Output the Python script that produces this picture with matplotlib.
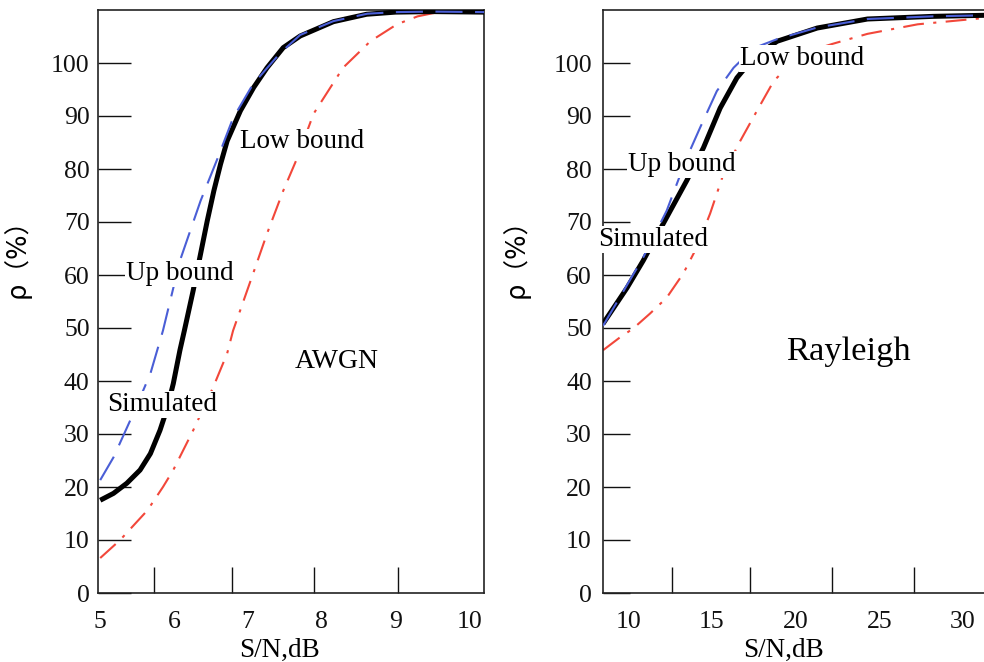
import matplotlib
matplotlib.use("Agg")
import matplotlib.pyplot as plt

# ---------------- data ----------------
# AWGN panel
awgn_sim_x = [5.0, 5.18, 5.36, 5.54, 5.68, 5.81, 5.90, 5.99, 6.08, 6.14, 6.26, 6.36, 6.45, 6.54, 6.63, 6.72, 6.90, 7.08, 7.26, 7.48, 7.71, 8.16, 8.61, 9.0, 9.5, 10.2]
awgn_sim_y = [17.5, 18.8, 20.7, 23.2, 26.3, 30.7, 34.5, 39.5, 45.8, 49.5, 57.1, 64.0, 70.2, 75.9, 80.9, 85.3, 91.0, 95.4, 99.1, 102.9, 105.1, 107.8, 109.2, 109.6, 109.7, 109.6]

awgn_up_x = [5.0, 5.18, 5.45, 5.68, 5.85, 6.08, 6.36, 6.59, 6.80, 7.07, 7.44, 7.71, 8.16, 8.62, 9.0, 9.5, 10.2]
awgn_up_y = [21.3, 25.6, 33.9, 41.4, 49.5, 62.7, 74.0, 82.0, 89.6, 96.0, 101.9, 105.3, 107.9, 109.3, 109.6, 109.7, 109.6]

awgn_low_x = [5.0, 5.27, 5.64, 5.85, 5.99, 6.26, 6.53, 6.72, 6.80, 7.07, 7.26, 7.48, 7.67, 7.89, 8.29, 8.66, 9.02, 9.30, 9.51, 9.8, 10.2]
awgn_low_y = [6.6, 10.0, 15.6, 20.0, 23.2, 30.7, 38.8, 45.2, 49.5, 60.2, 67.8, 75.9, 82.1, 90.4, 99.1, 104.1, 107.3, 108.8, 109.4, 109.6, 109.6]

# Rayleigh panel
ray_sim_x = [8.5, 9.94, 10.9, 12.1, 13.5, 14.5, 15.5, 16.5, 17.5, 18.9, 21.3, 24.3, 28.2, 31.3]
ray_sim_y = [50.8, 57.6, 62.7, 69.7, 77.8, 84.0, 91.5, 97.2, 101.0, 104.1, 106.6, 108.3, 108.8, 109.0]

ray_up_x = [8.5, 10.9, 12.3, 13.5, 14.3, 15.3, 16.3, 17.5, 18.9, 21.3, 24.3, 28.2, 31.3]
ray_up_y = [50.4, 63.3, 72.1, 82.1, 87.8, 94.7, 99.1, 102.8, 104.5, 106.7, 108.3, 108.8, 109.0]

ray_low_x = [8.5, 9.5, 10.3, 11.3, 12.3, 13.3, 14.1, 14.9, 15.7, 16.7, 17.7, 18.7, 20.3, 22.2, 24.3, 27.3, 31.3]
ray_low_y = [45.8, 48.2, 49.9, 52.7, 55.7, 60.3, 65.2, 71.6, 79.1, 85.3, 91.0, 96.6, 101.7, 103.6, 105.5, 107.3, 108.5]

y_ticks = [0, 10, 20, 30, 40, 50, 60, 70, 80, 90, 100]
awgn_xticks = [5, 6, 7, 8, 9, 10]
awgn_minor = [5.73, 6.79, 7.90, 9.03]
ray_xticks = [10, 15, 20, 25, 30]
ray_minor = [12.6, 17.3, 22.2, 27.1]

label_sim, label_up, label_low = "Simulated", "Up bound", "Low bound"
xlabel = "S/N,dB"
ylabel = "ρ（%）"

# ---------------- figure ----------------
SERIF = ["Liberation Serif", "DejaVu Serif"]
YLF = ["DejaVu Sans", "Noto Sans CJK SC"]
plt.rcParams["font.family"] = SERIF

fig = plt.figure(figsize=(9.84, 6.62), dpi=100)
ax1 = fig.add_axes([98 / 984, 69 / 662, 386 / 984, 583 / 662])
ax2 = fig.add_axes([603 / 984, 69 / 662, 385 / 984, 583 / 662])

BLUE = "#4a5ed6"
RED = "#f2473a"
blue_ls = (0, (13, 6))
red_ls = (0, (10, 4.5, 1.5, 4.5))
tb = dict(facecolor="white", edgecolor="none", pad=0.5)
TXT = 19.5


def style(ax, xlim, xticks, minor, ylen):
    ax.set_xlim(*xlim)
    ax.set_ylim(0, 110)
    ax.set_yticks(y_ticks)
    ax.set_xticks(xticks)
    ax.set_xticks(minor, minor=True)
    ax.tick_params(axis="y", which="major", direction="in", length=ylen, width=1.0,
                   labelsize=18.5, pad=6, colors="#111111")
    ax.tick_params(axis="x", which="major", length=0, labelsize=18.5, pad=13, colors="#111111")
    ax.tick_params(axis="x", which="minor", direction="in", length=19, width=1.0, color="#111111")
    ax.tick_params(axis="y", which="minor", length=0)
    for s in ax.spines.values():
        s.set_linewidth(1.2)
        s.set_color("#222222")
    ax.set_xlabel(xlabel, fontsize=19.5)
    ax.set_ylabel(ylabel, fontsize=18.5, family=YLF)


# ---- AWGN ----
style(ax1, (4.97, 10.2), awgn_xticks, awgn_minor, 24)
ax1.plot(awgn_low_x, awgn_low_y, color=RED, lw=1.5, ls=red_ls, zorder=2)
ax1.plot(awgn_sim_x, awgn_sim_y, color="black", lw=3.6, zorder=3,
         solid_capstyle="butt", solid_joinstyle="round")
ax1.plot(awgn_up_x, awgn_up_y, color=BLUE, lw=1.5, ls=blue_ls, zorder=4)
ax1.text(7.74, 85.1, label_low, fontsize=TXT, ha="center", va="center", bbox=tb, zorder=6)
ax1.text(6.08, 60.3, label_up, fontsize=TXT, ha="center", va="center", bbox=tb, zorder=6)
ax1.text(5.84, 35.6, label_sim, fontsize=TXT, ha="center", va="center", bbox=tb, zorder=6)
ax1.text(8.21, 43.7, "AWGN", fontsize=20, ha="center", va="center", zorder=6)
ax1.xaxis.set_label_coords(0.47, -0.077)
ax1.yaxis.set_label_coords(-0.175, 0.585)

# ---- Rayleigh ----
style(ax2, (8.5, 31.5), ray_xticks, ray_minor, 19.5)
ax2.spines["right"].set_visible(False)
ax2.tick_params(axis="y", pad=8)
ax2.plot(ray_low_x, ray_low_y, color=RED, lw=1.5, ls=red_ls, zorder=2)
ax2.plot(ray_sim_x, ray_sim_y, color="black", lw=3.6, zorder=3,
         solid_capstyle="butt", solid_joinstyle="round")
ax2.plot(ray_up_x, ray_up_y, color=BLUE, lw=1.5, ls=blue_ls, zorder=4)
ax2.text(20.39, 100.9, label_low, fontsize=TXT, ha="center", va="center", bbox=tb, zorder=6)
ax2.text(13.22, 80.8, label_up, fontsize=TXT, ha="center", va="center", bbox=tb, zorder=6)
ax2.text(11.49, 66.7, label_sim, fontsize=TXT, ha="center", va="center", bbox=tb, zorder=6)
ax2.text(23.13, 45.6, "Rayleigh", fontsize=24.8, ha="center", va="center", zorder=6)
ax2.xaxis.set_label_coords(0.47, -0.077)
ax2.yaxis.set_label_coords(-0.19, 0.585)

for ax in (ax1, ax2):
    for t in ax.texts:
        t.set_clip_on(False)

fig.savefig("out.png", dpi=100)
